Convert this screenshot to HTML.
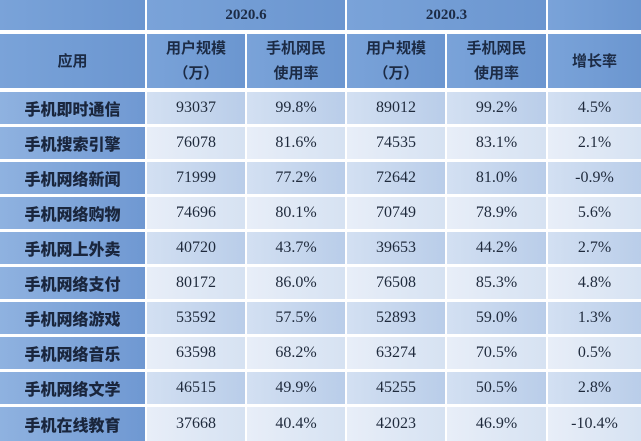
<!DOCTYPE html>
<html><head><meta charset="utf-8"><style>
body{margin:0;background:#fff;width:641px;height:439px;overflow:hidden}
table{border-collapse:separate;border-spacing:0;position:absolute;left:0;top:0;width:641px;table-layout:fixed}
td{padding:0;text-align:center;vertical-align:middle;border-right:2px solid #fff;border-bottom:3px solid #fff;font-family:"Liberation Serif","Noto Serif CJK SC",serif;font-size:16px;color:#1f2a3c}
td:last-child{border-right:none}
.h{background:linear-gradient(90deg,#7aa3d9,#6b96d0);font-family:"Liberation Sans","Noto Sans CJK SC",sans-serif;font-weight:bold;color:#1c2b45;font-size:15px;line-height:25px}
.y{font-family:"Liberation Serif",serif;font-weight:bold;font-size:15px}
.c{background:linear-gradient(90deg,#8fb2e0,#6f98d2);font-family:"Liberation Sans","Noto Sans CJK SC",sans-serif;font-weight:900;color:#1a263d;font-size:16px}
tr.o td.d{background:linear-gradient(90deg,#d3e0f2,#b9cde9)}
tr.e td.d{background:linear-gradient(90deg,#e8eef8,#d6e2f2)}
tr.last td{border-bottom:none}
</style></head><body>
<table>
<colgroup><col style="width:147px"><col style="width:100px"><col style="width:100px"><col style="width:100px"><col style="width:101px"><col style="width:93px"></colgroup>
<tr style="height:34px"><td class="h" style="border-bottom-width:4px"></td><td class="h y" colspan="2" style="border-bottom-width:4px">2020.6</td><td class="h y" colspan="2" style="border-bottom-width:4px">2020.3</td><td class="h" style="border-bottom-width:4px"></td></tr>
<tr style="height:58px"><td class="h" style="border-bottom-width:4px">应用</td><td class="h" style="border-bottom-width:4px">用户规模<br>（万）</td><td class="h" style="border-bottom-width:4px">手机网民<br>使用率</td><td class="h" style="border-bottom-width:4px">用户规模<br>（万）</td><td class="h" style="border-bottom-width:4px">手机网民<br>使用率</td><td class="h" style="border-bottom-width:4px">增长率</td></tr>
<tr class="o" style="height:35px"><td class="c">手机即时通信</td><td class="d">93037</td><td class="d">99.8%</td><td class="d">89012</td><td class="d">99.2%</td><td class="d">4.5%</td></tr>
<tr class="e" style="height:35px"><td class="c">手机搜索引擎</td><td class="d">76078</td><td class="d">81.6%</td><td class="d">74535</td><td class="d">83.1%</td><td class="d">2.1%</td></tr>
<tr class="o" style="height:35px"><td class="c">手机网络新闻</td><td class="d">71999</td><td class="d">77.2%</td><td class="d">72642</td><td class="d">81.0%</td><td class="d">-0.9%</td></tr>
<tr class="e" style="height:35px"><td class="c">手机网络购物</td><td class="d">74696</td><td class="d">80.1%</td><td class="d">70749</td><td class="d">78.9%</td><td class="d">5.6%</td></tr>
<tr class="o" style="height:35px"><td class="c">手机网上外卖</td><td class="d">40720</td><td class="d">43.7%</td><td class="d">39653</td><td class="d">44.2%</td><td class="d">2.7%</td></tr>
<tr class="e" style="height:35px"><td class="c">手机网络支付</td><td class="d">80172</td><td class="d">86.0%</td><td class="d">76508</td><td class="d">85.3%</td><td class="d">4.8%</td></tr>
<tr class="o" style="height:35px"><td class="c">手机网络游戏</td><td class="d">53592</td><td class="d">57.5%</td><td class="d">52893</td><td class="d">59.0%</td><td class="d">1.3%</td></tr>
<tr class="e" style="height:35px"><td class="c">手机网络音乐</td><td class="d">63598</td><td class="d">68.2%</td><td class="d">63274</td><td class="d">70.5%</td><td class="d">0.5%</td></tr>
<tr class="o" style="height:35px"><td class="c">手机网络文学</td><td class="d">46515</td><td class="d">49.9%</td><td class="d">45255</td><td class="d">50.5%</td><td class="d">2.8%</td></tr>
<tr class="e last" style="height:34px"><td class="c">手机在线教育</td><td class="d">37668</td><td class="d">40.4%</td><td class="d">42023</td><td class="d">46.9%</td><td class="d">-10.4%</td></tr>
</table>
</body></html>
